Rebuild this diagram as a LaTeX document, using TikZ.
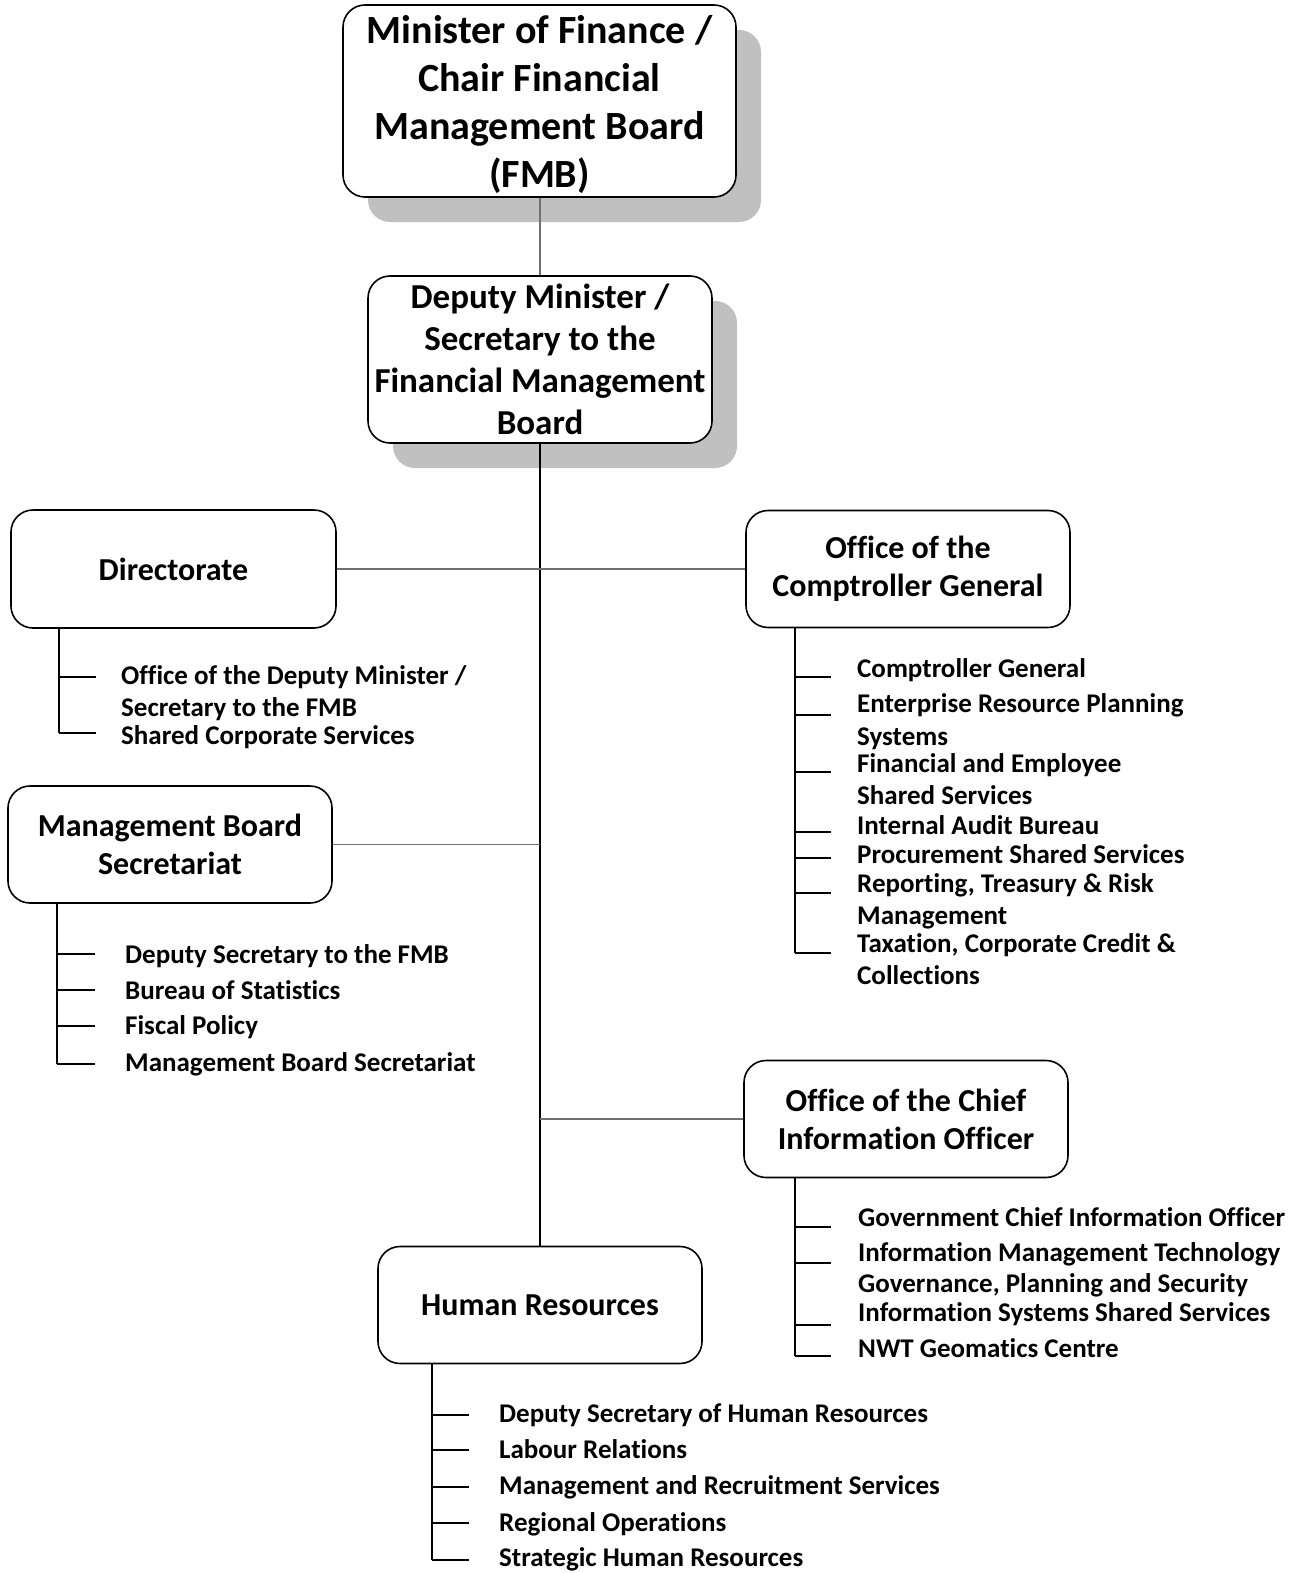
\documentclass[tikz,border=0pt]{standalone}
\usepackage{fontspec}
\setmainfont{Carlito}[Ligatures={NoCommon}]
\usetikzlibrary{shadows}
\definecolor{shadowgray}{HTML}{C0C0C0}
\definecolor{linkgray}{HTML}{707070}
\begin{document}
\begin{tikzpicture}[x=1pt,y=-1pt,
  box/.style={draw=black, line width=1.6pt, rounded corners=22pt, fill=white, align=center, inner sep=0pt,
              minimum width=324pt, minimum height=117pt, font=\bfseries\fontsize{32}{38}\selectfont},
  shadowed/.style={drop shadow={shadow xshift=25pt, shadow yshift=-25pt, fill=shadowgray, opacity=1, draw=none}},
  link/.style={draw=linkgray, line width=1.3pt},
  trunk/.style={draw=black, line width=1.8pt},
  branch/.style={draw=black, line width=1.6pt},
  item/.style={anchor=mid west, inner sep=0pt, yshift=-7pt, font=\bfseries\fontsize{27}{32}\selectfont}
]
\useasboundingbox[fill=white] (0,0) rectangle (1308,1573);

% boxes
\node[box, shadowed, minimum width=393pt, minimum height=192pt, font=\bfseries\fontsize{40}{48}\selectfont]
  (min) at (539.5,101) {\raisebox{-3pt}[\height][\depth]{\parbox{380pt}{\centering Minister of Finance /\\Chair Financial\\Management Board\\(FMB)}}};
\node[box, shadowed, minimum width=344pt, minimum height=167pt, font=\bfseries\fontsize{35}{42}\selectfont]
  (dep) at (540,359.5) {Deputy Minister /\\Secretary to the\\Financial Management\\Board};
\node[box, minimum width=325pt, minimum height=118pt] (dir) at (173.5,569) {Directorate};
\node[box] (ocg) at (908,569) {Office of the\\Comptroller General};
\node[box] (mbs) at (170,844.5) {Management Board\\Secretariat};
\node[box] (ocio) at (906,1119) {Office of the Chief\\Information Officer};
\node[box] (hr) at (540,1305) {Human Resources};

% main connectors
\draw[link] (dep.north |- min.south) -- (dep.north);
\draw[trunk] (dep.south) -- (hr.north);
\draw[link] (dir.east) -- (dir.east -| dep.south);
\draw[link] (ocg.west) -- (ocg.west -| dep.south);
\draw[link] (mbs.east) -- (mbs.east -| dep.south);
\draw[link] (ocio.west) -- (ocio.west -| dep.south);

% Directorate subtree
\foreach \y [count=\i] in {677,733} {
  \coordinate (dirT\i) at (59,\y); \coordinate (dirE\i) at (96,\y);
  \draw[branch] (dirT\i) -- (dirE\i);
}
\draw[branch] (dir.south -| dirT1) -- (dirT2);
\node[item] (dir1a) at (121,675) {Office of the Deputy Minister /};
\node[item] (dir1b) at (121,707) {Secretary to the FMB};
\node[item] (dir2) at (121,735) {Shared Corporate Services};

% MBS subtree
\foreach \y [count=\i] in {954,990,1026,1064} {
  \coordinate (mbsT\i) at (57,\y); \coordinate (mbsE\i) at (95,\y);
  \draw[branch] (mbsT\i) -- (mbsE\i);
}
\draw[branch] (mbs.south -| mbsT1) -- (mbsT4);
\node[item] (mbs1) at (125,954) {Deputy Secretary to the FMB};
\node[item] (mbs2) at (125,990) {Bureau of Statistics};
\node[item] (mbs3) at (125,1025) {Fiscal Policy};
\node[item] (mbs4) at (125,1062) {Management Board Secretariat};

% OCG subtree
\foreach \y [count=\i] in {677,715,772,832,858,893,953} {
  \coordinate (ocgT\i) at (795,\y); \coordinate (ocgE\i) at (831,\y);
  \draw[branch] (ocgT\i) -- (ocgE\i);
}
\draw[branch] (ocg.south -| ocgT1) -- (ocgT7);
\node[item] (ocg1) at (857,668) {Comptroller General};
\node[item] (ocg2a) at (857,703) {Enterprise Resource Planning};
\node[item] (ocg2b) at (857,736) {Systems};
\node[item] (ocg3a) at (857,763) {Financial and Employee};
\node[item] (ocg3b) at (857,795) {Shared Services};
\node[item] (ocg4) at (857,825) {Internal Audit Bureau};
\node[item] (ocg5) at (857,854) {Procurement Shared Services};
\node[item] (ocg6a) at (857,883) {Reporting, Treasury \& Risk};
\node[item] (ocg6b) at (857,915) {Management};
\node[item] (ocg7a) at (857,943) {Taxation, Corporate Credit \&};
\node[item] (ocg7b) at (857,975) {Collections};

% OCIO subtree
\foreach \y [count=\i] in {1227,1263,1325,1356} {
  \coordinate (ociT\i) at (795,\y); \coordinate (ociE\i) at (831,\y);
  \draw[branch] (ociT\i) -- (ociE\i);
}
\draw[branch] (ocio.south -| ociT1) -- (ociT4);
\node[item] (oci1) at (858,1217) {Government Chief Information Officer};
\node[item] (oci2) at (858,1252) {Information Management Technology};
\node[item] (oci3a) at (858,1283) {Governance, Planning and Security};
\node[item] (oci3b) at (858,1312) {Information Systems Shared Services};
\node[item] (oci4) at (858,1348) {NWT Geomatics Centre};

% HR subtree
\foreach \y [count=\i] in {1415,1450,1487,1523,1560} {
  \coordinate (hrT\i) at (432,\y); \coordinate (hrE\i) at (469,\y);
  \draw[branch] (hrT\i) -- (hrE\i);
}
\draw[branch] (hr.south -| hrT1) -- (hrT5);
\node[item] (hr1) at (499,1413) {Deputy Secretary of Human Resources};
\node[item] (hr2) at (499,1449) {Labour Relations};
\node[item] (hr3) at (499,1485) {Management and Recruitment Services};
\node[item] (hr4) at (499,1522) {Regional Operations};
\node[item] (hr5) at (499,1557) {Strategic Human Resources};
\end{tikzpicture}
\end{document}
